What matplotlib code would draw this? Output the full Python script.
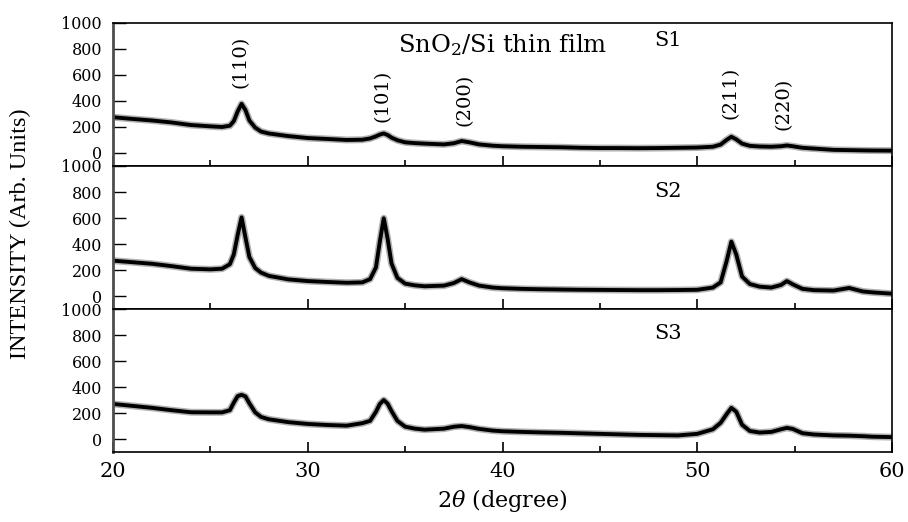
import matplotlib
matplotlib.use("Agg")
import matplotlib.pyplot as plt
from matplotlib.ticker import MultipleLocator

plt.rcParams['font.family'] = ['DejaVu Serif']
plt.rcParams['mathtext.fontset'] = 'dejavuserif'

# ----------------------------- data -----------------------------
two_theta = [20, 21, 22, 23, 24, 25, 25.6, 26.0, 26.2, 26.4, 26.6, 26.8, 27.0, 27.3, 27.6,
             28, 29, 30, 31, 32, 32.8, 33.2, 33.5, 33.7, 33.9, 34.1, 34.3, 34.6, 35.0, 35.5,
             36, 37, 37.5, 37.9, 38.3, 38.8, 39.5, 40, 41, 42, 43, 44, 45, 46, 47, 48, 49, 50,
             50.8, 51.2, 51.5, 51.75, 52.0, 52.3, 52.7, 53.2, 53.8, 54.3, 54.6, 54.9, 55.4,
             56, 57, 57.8, 58.5, 59, 60]

s1 = [275, 262, 250, 235, 215, 205, 200, 210, 245, 320, 378, 330, 250, 195, 165,
      150, 130, 115, 108, 100, 102, 112, 128, 142, 150, 138, 118, 98, 82, 76,
      72, 66, 75, 92, 82, 66, 56, 52, 48, 46, 44, 40, 38, 38, 37, 38, 40, 42,
      48, 65, 100, 125, 105, 72, 55, 50, 48, 52, 58, 52, 40,
      34, 24, 22, 20, 19, 18]

s2 = [272, 260, 248, 230, 210, 205, 210, 245, 320, 470, 605, 450, 300, 215, 180,
      155, 128, 115, 108, 102, 105, 130, 220, 420, 598, 440, 250, 140, 95, 82,
      75, 80, 100, 130, 105, 80, 65, 60, 55, 52, 50, 48, 47, 46, 45, 45, 46, 48,
      65, 105, 265, 418, 320, 150, 92, 72, 65, 85, 115, 90, 55,
      45, 42, 62, 35, 28, 18]

s3 = [270, 255, 240, 222, 206, 205, 205, 222, 280, 330, 340, 328, 275, 205, 170,
      152, 130, 116, 108, 103, 122, 140, 210, 270, 300, 272, 215, 140, 95, 80,
      72, 80, 95, 100, 92, 78, 65, 60, 55, 51, 48, 44, 40, 36, 32, 30, 28, 40,
      75, 125, 190, 240, 210, 110, 62, 50, 55, 75, 86, 78, 45,
      35, 28, 26, 22, 18, 15]

series = [s1, s2, s3]
sample_names = ['S1', 'S2', 'S3']
sample_label_y = [865, 805, 810]

planes = ['(110)', '(101)', '(200)', '(211)', '(220)']
plane_x = [26.55, 33.85, 38.05, 51.7, 54.45]
plane_y = [700, 440, 405, 460, 375]

# ----------------------------- figure -----------------------------
fig = plt.figure(figsize=(9.08, 5.22), dpi=100)
gs = fig.add_gridspec(3, 1, left=0.1245, right=0.9824, top=0.956, bottom=0.134, hspace=0)
axes = [fig.add_subplot(gs[i, 0]) for i in range(3)]

for i, ax in enumerate(axes):
    # dark halo + black core to mimic the noisy band of the measured scan
    ax.plot(two_theta, series[i], color='0.25', lw=5.0, alpha=0.4, solid_joinstyle='round')
    ax.plot(two_theta, series[i], color='black', lw=2.8, solid_joinstyle='round')
    ax.set_xlim(20, 60)
    ax.set_ylim(-100, 1000)
    ax.set_yticks([0, 200, 400, 600, 800, 1000])
    ax.xaxis.set_major_locator(MultipleLocator(10))
    ax.xaxis.set_minor_locator(MultipleLocator(5))
    ax.tick_params(axis='y', direction='in', length=9, width=1.0, labelsize=11.5, pad=8,
                   right=False)
    ax.tick_params(axis='x', which='major', direction='in', length=7, width=1.2,
                   labelsize=15, pad=7, top=False)
    ax.tick_params(axis='x', which='minor', direction='in', length=4, width=1.2, top=False)
    for side in ['top', 'right', 'bottom']:
        ax.spines[side].set_linewidth(1.2)
    ax.spines['left'].set_linewidth(2.0)
    ax.spines['left'].set_color('0.3')
    if i < 2:
        ax.tick_params(axis='x', labelbottom=False)
    ax.text(48.5, sample_label_y[i], sample_names[i], fontsize=15, ha='center', va='center')

axes[0].text(40.0, 830, r'SnO$_2$/Si thin film', fontsize=17.5, ha='center', va='center')
for lab, px, py in zip(planes, plane_x, plane_y):
    axes[0].text(px, py, lab, fontsize=14, rotation=90, ha='center', va='center')

fig.text(0.022, 0.552, 'INTENSITY (Arb. Units)', rotation=90, ha='center', va='center',
         fontsize=17.5, family='Liberation Serif')
fig.text(0.553, 0.042, r'$2\theta$ (degree)', ha='center', va='center', fontsize=16)

fig.savefig('out.png', dpi=100)
